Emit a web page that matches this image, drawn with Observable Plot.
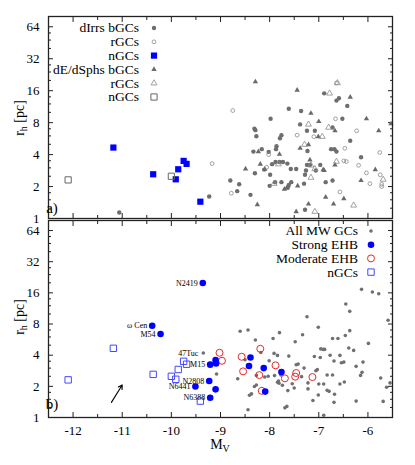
<!DOCTYPE html>
<html><head><meta charset="utf-8">
<script src="https://cdn.jsdelivr.net/npm/d3@7"></script>
<script src="https://cdn.jsdelivr.net/npm/@observablehq/plot@0.6"></script>
<style>
html,body{margin:0;padding:0;background:#fff;}
#chart{position:relative;width:415px;height:465px;background:#fff;}
#chart svg{display:block;overflow:visible;}
</style></head><body><div id="chart"></div>
<script>
// ---------- tick values ----------
const xTickValues = [-12, -11, -10, -9, -8, -7, -6];
const yTickValues = [1, 2, 4, 8, 16, 32, 64];

// ---------- panel a: dIrrs ----------
const dIrrBGCs = [[-6.89,15.1],[-6.59,13.6],[-6.64,12.9],[-6.42,11.5],[-7.61,10.8],[-7.36,10.3],[-7.98,8.7],[-6.52,8.7],[-7.38,7.7],[-6.72,7.2],[-8.31,7.0],[-8.29,6.8],[-7.24,6.7],[-7.08,6.7],[-7.76,6.1],[-7.79,5.7],[-8.27,5.95],[-6.36,5.4],[-7.86,4.8],[-7.87,4.5],[-8.16,4.5],[-6.75,4.5],[-6.68,4.5],[-6.64,4.27],[-7.23,4.33],[-8.33,4.27],[-8.02,4.24],[-6.14,3.78],[-7.88,3.41],[-7.80,3.41],[-7.73,3.41],[-7.64,3.29],[-7.95,3.25],[-7.24,3.2],[-7.18,3.2],[-6.97,3.2],[-7.57,2.93],[-7.46,2.93],[-8.11,2.89],[-7.26,2.83],[-7.06,2.83],[-8.30,2.67],[-7.99,2.58],[-7.28,2.58],[-6.72,2.28],[-8.80,2.28],[-6.86,2.2],[-7.89,2.2],[-7.76,2.2],[-7.56,2.2],[-7.30,2.13],[-8.62,2.1],[-8.00,2.03],[-7.61,2.07],[-7.63,1.97],[-8.66,1.81],[-8.39,1.67],[-9.23,1.61],[-7.28,1.21],[-11.06,1.14]];
const dIrrRGCs = [[-6.64,18.9],[-8.75,10.4],[-6.66,8.7],[-6.23,6.7],[-7.44,6.1],[-7.10,5.9],[-6.47,4.59],[-8.02,4.0],[-5.76,4.18],[-6.49,3.49],[-6.44,3.44],[-9.17,3.29],[-6.19,3.17],[-8.06,3.04],[-6.03,2.69],[-5.75,2.58],[-5.72,2.0],[-5.72,2.1],[-5.96,2.13],[-8.78,1.73],[-6.57,1.78]];
const dIrrNGCs = [[-11.18,4.66],[-10.37,2.61],[-9.91,2.34],[-9.86,2.91],[-9.75,3.49],[-9.69,3.27],[-9.41,1.44]];

// ---------- panel a: dE/dSphs ----------
const dEBGCs = [[-8.29,19.4],[-7.44,16.2],[-6.36,13.9],[-7.16,9.8],[-6.03,8.7],[-7.00,8.2],[-6.67,6.7],[-5.78,6.7],[-5.53,7.8],[-7.01,5.9],[-7.21,4.97],[-7.38,4.59],[-8.23,4.27],[-7.80,4.03],[-7.18,3.56],[-8.19,3.25],[-6.67,3.2],[-8.49,2.93],[-8.10,2.91],[-6.91,2.89],[-6.89,2.83],[-5.85,2.89],[-6.14,2.28],[-7.43,2.03],[-7.70,1.89],[-7.65,1.93],[-6.86,1.59],[-6.49,1.54],[-7.21,1.37],[-6.70,1.37],[-8.25,1.35],[-7.46,1.16]];
const dERGCs = [[-6.62,18.9],[-6.78,15.1],[-7.21,7.7],[-6.80,7.2],[-6.93,5.9],[-7.29,4.97],[-6.64,3.44],[-7.82,3.25],[-7.16,3.17],[-7.08,2.93],[-7.16,2.43],[-5.69,2.33],[-7.91,2.13],[-6.29,1.33],[-7.08,1.16]];
const dENGCs = [[-12.10,2.31],[-10.0,2.5]];

// ---------- panel b ----------
const mwGCs = [[-9.35,4.2],[-6.13,17.3],[-5.91,16.3],[-5.78,15.7],[-6.45,12.5],[-6.37,10.6],[-7.24,9.4],[-5.59,8.7],[-8.60,6.8],[-8.44,7.0],[-7.80,6.6],[-7.48,5.4],[-6.37,6.9],[-7.01,7.45],[-7.33,6.3],[-7.93,5.8],[-8.29,5.6],[-6.72,5.8],[-6.61,5.8],[-6.46,6.2],[-5.99,5.2],[-6.96,4.6],[-6.91,4.55],[-6.88,4.55],[-6.39,4.7],[-6.29,4.45],[-8.18,4.25],[-7.91,4.16],[-7.84,3.98],[-7.61,3.92],[-8.50,3.61],[-7.09,3.89],[-6.97,3.80],[-6.77,4.0],[-6.57,3.98],[-8.01,3.53],[-6.69,3.51],[-6.54,3.38],[-6.49,3.43],[-7.46,3.23],[-7.42,3.28],[-6.24,3.12],[-6.10,3.43],[-7.30,3.0],[-9.08,2.63],[-8.27,2.55],[-8.10,2.46],[-8.03,2.5],[-7.90,2.54],[-7.77,2.57],[-7.82,2.25],[-7.84,2.19],[-7.81,2.14],[-8.65,2.37],[-7.06,2.83],[-7.03,2.9],[-6.12,2.73],[-6.15,2.55],[-6.83,2.57],[-6.72,2.57],[-7.35,2.48],[-5.74,2.41],[-5.55,2.16],[-5.62,1.96],[-7.54,2.12],[-7.74,2.05],[-7.22,2.16],[-7.00,2.11],[-6.90,2.11],[-8.31,1.99],[-8.27,2.06],[-6.57,2.11],[-6.48,2.2],[-7.63,1.82],[-7.50,1.93],[-7.22,1.89],[-6.83,1.83],[-6.79,1.79],[-8.37,1.69],[-8.41,1.64],[-7.01,1.65],[-6.68,1.68],[-7.12,1.46],[-6.69,1.4],[-6.24,1.44],[-5.69,1.43],[-7.69,1.24],[-7.65,1.28],[-8.44,1.19],[-6.90,1.05]];
const strongEHB = [[-10.39,7.7],[-10.22,6.4],[-9.36,19.9],[-9.51,1.99],[-9.21,3.24],[-9.10,3.58],[-9.09,3.33],[-9.23,2.25],[-9.10,1.87],[-9.21,1.55],[-8.39,3.80],[-8.42,3.14],[-8.12,3.0],[-7.76,2.75],[-8.09,1.78]];
const moderateEHB = [[-9.02,4.22],[-8.97,3.53],[-8.57,3.86],[-8.54,2.79],[-8.19,4.61],[-8.21,2.57],[-8.16,1.81],[-7.88,3.19],[-7.69,2.39],[-7.46,2.69],[-7.48,2.48],[-7.13,2.46]];
const nGCsAll = dIrrNGCs.concat(dENGCs);
const gcNames = ["N2419","ω Cen","M54","47Tuc","M15","N2808","N6441","N6388"];
const gcNamePos = [[-9.36,19.9],[-10.39,7.7],[-10.22,6.4],[-9.35,4.2],[-9.21,3.24],[-9.23,2.25],[-9.51,1.99],[-9.21,1.55]];
const arrowFrom = [-11.22, 1.40];
const arrowTo = [-11.0, 2.06];

const legendLabelsA = ["dIrrs bGCs","rGCs","nGCs","dE/dSphs bGCs","rGCs","nGCs"];
const legendLabelsB = ["All MW GCs","Strong EHB","Moderate EHB","nGCs"];

// ---------- helpers ----------
const FONT = "'Liberation Serif','Times New Roman',serif";
const yMinorTicks = yTickValues.flatMap(m => [1.25, 1.5, 1.75].map(f => m * f)).filter(v => v < 80);
const xMinorTicks = d3.range(-12.5, -5.4, 1);
const FR = "#222";

function tickMarks() {
  return [
    Plot.axisY(yTickValues, {anchor: "left", tickSize: 5, dx: 5, fill: "none", stroke: FR}),
    Plot.axisY(yMinorTicks, {anchor: "left", tickSize: 3, dx: 3, fill: "none", stroke: FR}),
    Plot.axisY(yTickValues, {anchor: "right", tickSize: 5, dx: -5, fill: "none", stroke: FR}),
    Plot.axisY(yMinorTicks, {anchor: "right", tickSize: 3, dx: -3, fill: "none", stroke: FR}),
    Plot.axisX(xTickValues, {anchor: "bottom", tickSize: 5, dy: -5, fill: "none", stroke: FR}),
    Plot.axisX(xMinorTicks, {anchor: "bottom", tickSize: 3, dy: -3, fill: "none", stroke: FR}),
    Plot.axisX(xTickValues, {anchor: "top", tickSize: 5, dy: 5, fill: "none", stroke: FR}),
    Plot.axisX(xMinorTicks, {anchor: "top", tickSize: 3, dy: 3, fill: "none", stroke: FR}),
    Plot.text(yTickValues, {y: d => d, text: d => String(d), frameAnchor: "left", textAnchor: "end", dx: -9, fontSize: 13, fill: "#000"})
  ];
}

const px = d => d[0], py = d => d[1];

function makePanel(height, marginTop, marginBottom, marks) {
  return Plot.plot({
    width: 415, height, marginTop, marginBottom, marginLeft: 48, marginRight: 23,
    x: {domain: [-12.5, -5.5], axis: null, label: null},
    y: {type: "log", domain: [1, 80], axis: null, label: null},
    style: {fontFamily: FONT, fontSize: "13px", background: "transparent", color: "#000", overflow: "visible"},
    marks: [...tickMarks(), ...marks, Plot.frame({stroke: FR, strokeWidth: 1.3})]
  });
}

function drawLegend(svg, labels, styles, xText, xSym, y0, step) {
  const g = d3.select(svg).append("g").attr("font-family", FONT).attr("font-size", 13.5);
  labels.forEach((lab, i) => {
    const s = styles[i];
    const y = y0 + i * step;
    g.append("text").attr("x", xText).attr("y", y).attr("dy", "0.33em").attr("text-anchor", "end").attr("fill", "#000").text(lab);
    g.append("path").attr("transform", `translate(${xSym},${y})`)
      .attr("d", d3.symbol(s.type, Math.PI * s.r * s.r)())
      .attr("fill", s.fill).attr("stroke", s.stroke || "none").attr("stroke-width", s.sw || 0);
  });
}

function yLabel(svg, cy) {
  const t = d3.select(svg).append("text").attr("transform", `translate(24,${cy}) rotate(-90)`)
    .attr("text-anchor", "middle").attr("font-family", FONT).attr("font-size", 14).attr("fill", "#000");
  t.append("tspan").text("r");
  t.append("tspan").attr("dy", 3).attr("font-size", 10).text("h");
  t.append("tspan").attr("dy", -3).text(" [pc]");
}

function panelLabel(svg, x, y, txt) {
  d3.select(svg).append("text").attr("x", x).attr("y", y).attr("font-family", FONT)
    .attr("font-size", 15).attr("fill", "#000").text(txt);
}

// styles
const S = {
  dot: {type: d3.symbolCircle, r: 2.2, fill: "#6e6e6e"},
  ocirc: {type: d3.symbolCircle, r: 1.9, fill: "none", stroke: "#8a8a8a", sw: 0.8},
  bsq: {type: d3.symbolSquare, r: 3.5, fill: "#0000ff"},
  tri: {type: d3.symbolTriangle, r: 2.0, fill: "#6a6a6a"},
  otri: {type: d3.symbolTriangle, r: 2.2, fill: "none", stroke: "#8a8a8a", sw: 0.8},
  osq: {type: d3.symbolSquare, r: 3.5, fill: "none", stroke: "#666", sw: 1},
  mw: {type: d3.symbolCircle, r: 1.8, fill: "#707070"},
  strong: {type: d3.symbolCircle, r: 3.3, fill: "#0000ff"},
  moder: {type: d3.symbolCircle, r: 3.5, fill: "none", stroke: "#e22a2a", sw: 1},
  bosq: {type: d3.symbolSquare, r: 3.6, fill: "none", stroke: "#4646ff", sw: 1}
};

// ---------- panel a ----------
const svgA = makePanel(219, 16, 1, [
  Plot.dot(dIrrBGCs, {x: px, y: py, r: S.dot.r, fill: S.dot.fill}),
  Plot.dot(dIrrRGCs, {x: px, y: py, r: S.ocirc.r, fill: "none", stroke: S.ocirc.stroke, strokeWidth: S.ocirc.sw}),
  Plot.dot(dEBGCs, {x: px, y: py, r: S.tri.r, symbol: "triangle", fill: S.tri.fill}),
  Plot.dot(dERGCs, {x: px, y: py, r: S.otri.r, symbol: "triangle", fill: "none", stroke: S.otri.stroke, strokeWidth: S.otri.sw}),
  Plot.dot(dIrrNGCs, {x: px, y: py, r: S.bsq.r, symbol: "square", fill: S.bsq.fill}),
  Plot.dot(dENGCs, {x: px, y: py, r: S.osq.r, symbol: "square", fill: "none", stroke: S.osq.stroke, strokeWidth: S.osq.sw})
]);

// ---------- panel b ----------
const svgB = makePanel(246, 1, 48, [
  Plot.axisX(xTickValues, {anchor: "bottom", tickSize: 0, tickPadding: 8, fontSize: 13, tickFormat: d => String(d), label: null}),
  Plot.dot(mwGCs, {x: px, y: py, r: S.mw.r, fill: S.mw.fill}),
  Plot.dot(nGCsAll, {x: px, y: py, r: S.bosq.r, symbol: "square", fill: "none", stroke: S.bosq.stroke, strokeWidth: S.bosq.sw}),
  Plot.dot(moderateEHB, {x: px, y: py, r: S.moder.r, fill: "none", stroke: S.moder.stroke, strokeWidth: S.moder.sw}),
  Plot.dot(strongEHB, {x: px, y: py, r: S.strong.r, fill: S.strong.fill}),
  Plot.text(gcNames, {x: (d, i) => gcNamePos[i][0], y: (d, i) => gcNamePos[i][1], text: d => d, textAnchor: "end", dx: -5, fontSize: 8, fill: "#000"}),
  Plot.arrow([[arrowFrom, arrowTo]], {x1: d => d[0][0], y1: d => d[0][1], x2: d => d[1][0], y2: d => d[1][1], stroke: "#000", strokeWidth: 1.1, headLength: 6})
]);

const chart = document.getElementById("chart");
chart.appendChild(svgA);
chart.appendChild(svgB);

// overlays: legends, axis labels, panel labels
drawLegend(svgA, legendLabelsA, [S.dot, S.ocirc, S.bsq, S.tri, S.otri, S.osq], 139, 154, 28, 13.8);
drawLegend(svgB, legendLabelsB, [S.mw, S.strong, S.moder, S.bosq], 358, 371, 12, 13.7);
yLabel(svgA, 118);
yLabel(svgB, 98);
panelLabel(svgA, 52, 213, "a)");
panelLabel(svgB, 52, 190, "b)");
{
  const t = d3.select(svgB).append("text").attr("x", 220).attr("y", 230).attr("text-anchor", "middle")
    .attr("font-family", FONT).attr("font-size", 14).attr("fill", "#000");
  t.append("tspan").text("M");
  t.append("tspan").attr("dy", 3).attr("font-size", 10).text("V");
}
</script></body></html>
